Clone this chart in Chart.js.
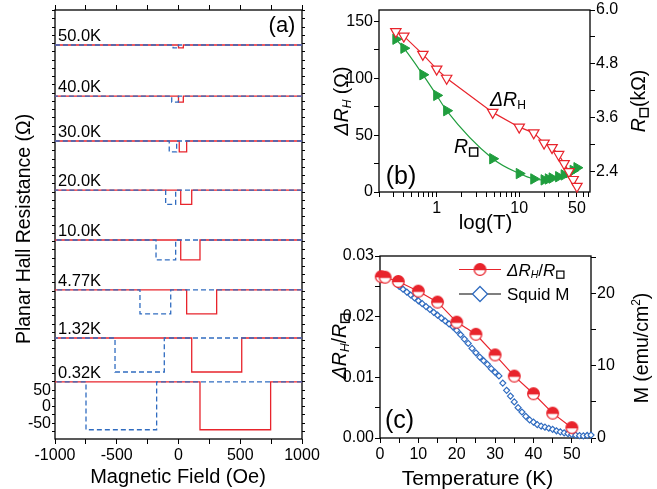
<!DOCTYPE html>
<html>
<head>
<meta charset="utf-8">
<script src="https://cdn.jsdelivr.net/npm/chart.js@4.4.1/dist/chart.umd.min.js"></script>
<style>
html, body { margin: 0; padding: 0; background: #fff; }
#wrap { position: relative; width: 657px; height: 489px; overflow: hidden; }
canvas { position: absolute; }
</style>
</head>
<body>
<div id="wrap">
    <canvas id="panelA" width="330" height="489" style="left:0;top:0;width:330px;height:489px"></canvas>
    <canvas id="panelB" width="327" height="240" style="left:330px;top:0;width:327px;height:240px"></canvas>
    <canvas id="panelC" width="327" height="249" style="left:330px;top:240px;width:327px;height:249px"></canvas>
</div>
<script>
// ---- panel (a): planar Hall loops, stacked by temperature ----
const hallTemps = ['0.32K', '1.32K', '4.77K', '10.0K', '20.0K', '30.0K', '40.0K', '50.0K']
const hallOffset = [75, 208, 354, 505, 656, 805, 941, 1096] // upper level of each trace (Ω, stacked)
const hallDepth = [145, 103, 73, 60, 43, 33, 18, 9]
const blueStart = [-749, -514, -312, -182, -104, -75, -55, -44]
const blueEnd = [-177, -115, -63, -23, -23, -15, -1, -1]
const redStart = [174, 107, 66, 18, 18, 6, 0, 0]
const redEnd = [746, 512, 309, 174, 107, 66, 39, 39]
const fieldLabels = [-1000, -500, 0, 500, 1000]
const hallLabels = [-50, 0, 50]

// ---- panel (b): ΔR_H and R□ vs T ----
const tempDR = [0.32, 0.4, 0.68, 1.0, 1.32, 4.77, 10, 15, 20, 25, 30, 35, 40, 45, 50]
const deltaRH = [141, 137, 121, 108, 100, 70, 57, 52, 43, 39, 33, 25, 18, 11, 5]
const tempSheet = [0.32, 0.4, 0.68, 1.0, 1.32, 4.77, 10, 15, 20, 22.5, 25, 30, 35, 40, 45, 50]
const rSheet = [5.35, 5.15, 4.56, 4.10, 3.76, 2.69, 2.36, 2.24, 2.22, 2.24, 2.26, 2.29, 2.33, 2.38, 2.43, 2.49]
const logMarks = [0.2, 0.3, 0.4, 0.5, 0.6, 0.7, 0.8, 0.9, 1, 2, 3, 4, 5, 6, 7, 8, 9, 10, 20, 30, 40, 50, 60, 70]
const logLabels = [1, 10, 50]
const dRMarks = [0, 25, 50, 75, 100, 125, 150]
const dRLabels = [0, 50, 100, 150]
const sheetMarks = [2.4, 3.0, 3.6, 4.2, 4.8, 5.4, 6.0]
const sheetLabels = [2.4, 3.6, 4.8, 6.0]

// ---- panel (c): ΔR_H/R□ and SQUID magnetisation vs T ----
const tempRatio = [0.32, 1.32, 4.77, 10, 15, 20, 25, 30, 35, 40, 45, 50]
const ratio = [0.0266, 0.0265, 0.0258, 0.0242, 0.0224, 0.0191, 0.0171, 0.0137, 0.0102, 0.0073, 0.0041, 0.0017]
const tempSquid = [5, 6, 7, 8, 9, 10, 11, 12, 13, 14, 15, 16, 17, 18, 19, 20, 21, 22, 23, 24, 25, 26, 27, 28, 29, 30,
    31, 32, 33, 34, 35, 36, 37, 38, 39, 40, 41, 42, 43, 44, 45, 46, 47, 48, 49, 50, 51, 52, 53, 54, 55]
const squidM = [21.0, 20.6, 20.2, 19.8, 19.4, 19.0, 18.6, 18.2, 17.8, 17.4, 17.0, 16.6, 16.2, 15.8, 15.4, 14.9,
    14.3, 13.7, 13.1, 12.4, 11.8, 11.2, 10.7, 10.2, 9.6, 9.1, 8.6, 7.6, 6.6, 5.8, 5.0, 4.2, 3.6, 3.0, 2.5, 2.2,
    1.85, 1.65, 1.5, 1.35, 1.2, 1.0, 0.85, 0.72, 0.6, 0.5, 0.4, 0.33, 0.3, 0.35, 0.4]
const tempMarks = [0, 5, 10, 15, 20, 25, 30, 35, 40, 45, 50, 55]
const tempLabels = [0, 10, 20, 30, 40, 50]
const ratioMarks = [0, 0.005, 0.01, 0.015, 0.02, 0.025, 0.03]
const ratioLabels = [0, 0.01, 0.02, 0.03]
const mMarks = [0, 5, 10, 15, 20, 25]
const mLabels = [0, 10, 20]

const FONT = '"Liberation Sans", Arial, Helvetica, sans-serif'
const RED = 'rgb(232,36,44)'
const BLUE = 'rgb(48,108,192)'
const GREEN = 'rgb(32,158,62)'

Chart.defaults.font.family = FONT
Chart.defaults.color = '#000'

function setFont(ctx, size, italic) {
    ctx.font = (italic ? 'italic ' : '') + size + 'px ' + FONT
}

// plain one-line text, centred on x
function drawPlain(ctx, text, x, y, size) {
    ctx.save()
    ctx.setTransform(1, 0, 0, 1, 0, 0)
    setFont(ctx, size, false)
    ctx.fillStyle = '#000'
    ctx.textAlign = 'center'
    ctx.textBaseline = 'alphabetic'
    ctx.fillText(text, x, y)
    ctx.restore()
}

// parts: [text, flags] with i = italic, s = subscript, p = superscript, b = small square
function measureRich(ctx, parts, size) {
    let w = 0
    for (const [text, f = ''] of parts) {
        if (f.includes('b')) {
            w += size * 0.42 + 3
            continue
        }
        const s = f.includes('s') || f.includes('p') ? size * 0.62 : size
        setFont(ctx, s, f.includes('i'))
        w += ctx.measureText(text).width
    }
    return w
}

function drawRich(ctx, parts, x, y, size, align, rotate) {
    ctx.save()
    ctx.setTransform(1, 0, 0, 1, 0, 0)
    ctx.translate(x, y)
    if (rotate) ctx.rotate(-Math.PI / 2)
    const w = measureRich(ctx, parts, size)
    let cx = align === 'center' ? -w / 2 : 0
    const base = rotate ? size * 0.36 : 0
    ctx.fillStyle = '#000'
    ctx.strokeStyle = '#000'
    ctx.textAlign = 'left'
    ctx.textBaseline = 'alphabetic'
    for (const [text, f = ''] of parts) {
        if (f.includes('b')) {
            const side = size * 0.42
            ctx.lineWidth = Math.max(1, size / 14)
            ctx.strokeRect(cx + 1.5, base + size * 0.16 - side, side, side)
            cx += side + 3
            continue
        }
        let s = size
        let dy = 0
        if (f.includes('s')) { s = size * 0.62; dy = size * 0.16 }
        if (f.includes('p')) { s = size * 0.62; dy = -size * 0.42 }
        setFont(ctx, s, f.includes('i'))
        ctx.fillText(text, cx, base + dy)
        cx += ctx.measureText(text).width
    }
    ctx.restore()
}

function makeAxis({ position, min, max, marks, labels, size, fmt, tick = 5, type = 'linear', showLabels = true }) {
    const horiz = position === 'top' || position === 'bottom'
    return {
        type,
        position,
        min,
        max,
        afterBuildTicks: (s) => {
            s.ticks = marks.map((v) => ({ value: v }))
        },
        afterFit: (s) => {
            if (horiz) s.height = size
            else s.width = size
        },
        ticks: {
            display: showLabels,
            autoSkip: false,
            maxRotation: 0,
            minRotation: 0,
            padding: horiz ? 3 : 1,
            color: '#000',
            font: { size: 16, lineHeight: 1.1 },
            callback: (v) => (labels.includes(v) ? (fmt ? fmt(v) : String(v)) : ''),
        },
        grid: { drawOnChartArea: false, drawTicks: true, tickLength: tick, color: '#000', lineWidth: 1 },
        border: { display: false },
    }
}

const frame = {
    id: 'frame',
    beforeDatasetsDraw(chart) {
        const { ctx, chartArea: a } = chart
        ctx.save()
        ctx.strokeStyle = '#000'
        ctx.lineWidth = 1.3
        ctx.strokeRect(a.left, a.top, a.right - a.left, a.bottom - a.top)
        ctx.restore()
    },
}

const baseOptions = {
    responsive: false,
    animation: false,
    devicePixelRatio: 1,
    plugins: { legend: { display: false }, tooltip: { enabled: false } },
}

// ---------- panel (a) ----------
const hallSets = []
hallTemps.forEach((t, i) => {
    const top = hallOffset[i]
    const low = top - hallDepth[i]
    hallSets.push({
        label: t + ' down',
        data: [
            { x: 1000, y: top }, { x: blueEnd[i], y: top }, { x: blueEnd[i], y: low },
            { x: blueStart[i], y: low }, { x: blueStart[i], y: top }, { x: -1000, y: top },
        ],
        showLine: true,
        borderColor: BLUE,
        borderWidth: 1.3,
        borderDash: [5, 3],
        pointRadius: 0,
        order: 1,
    })
    hallSets.push({
        label: t + ' up',
        data: [
            { x: -1000, y: top }, { x: redStart[i], y: top }, { x: redStart[i], y: low },
            { x: redEnd[i], y: low }, { x: redEnd[i], y: top }, { x: 1000, y: top },
        ],
        showLine: true,
        borderColor: RED,
        borderWidth: 1.3,
        pointRadius: 0,
        order: 2,
    })
})

const minorHall = []
for (let v = -75; v <= 1200; v += 25) minorHall.push(v)
const fieldMarks = []
for (let v = -1000; v <= 1000; v += 250) fieldMarks.push(v)

new Chart(document.getElementById('panelA'), {
    type: 'scatter',
    data: { datasets: hallSets },
    options: {
        ...baseOptions,
        layout: { padding: 0 },
        scales: {
            x: makeAxis({ position: 'bottom', min: -1000, max: 1000, marks: fieldMarks, labels: fieldLabels, size: 50 }),
            xTop: makeAxis({ position: 'top', min: -1000, max: 1000, marks: fieldMarks, labels: [], size: 10, showLabels: false }),
            y: makeAxis({ position: 'left', min: -98, max: 1202, marks: minorHall, labels: hallLabels, size: 55, tick: 3 }),
            yRight: makeAxis({ position: 'right', min: -98, max: 1202, marks: minorHall, labels: [], size: 28, tick: 3, showLabels: false }),
        },
    },
    plugins: [
        frame,
        {
            id: 'hallText',
            afterDraw(chart) {
                const { ctx, chartArea: a } = chart
                const y = chart.scales.y
                ctx.save()
                ctx.fillStyle = '#000'
                setFont(ctx, 16.5, false)
                ctx.textAlign = 'left'
                ctx.textBaseline = 'alphabetic'
                hallTemps.forEach((t, i) => {
                    ctx.fillText(t, a.left + 3, y.getPixelForValue(hallOffset[i]) - 4)
                })
                ctx.restore()
                drawPlain(ctx, '(a)', 282, 32, 22)
                drawRich(ctx, [['Planar Hall Resistance (Ω)']], 23, 229, 19.5, 'center', true)
                drawPlain(ctx, 'Magnetic Field (Oe)', 178, 483, 20)
            },
        },
    ],
})

// ---------- panel (b) ----------
new Chart(document.getElementById('panelB'), {
    type: 'scatter',
    data: {
        datasets: [
            {
                label: 'dRH',
                data: tempDR.map((t, i) => ({ x: t, y: deltaRH[i] })),
                yAxisID: 'y',
                showLine: true,
                borderColor: RED,
                borderWidth: 1.2,
                pointStyle: 'triangle',
                pointRotation: 180,
                pointRadius: 6,
                pointBackgroundColor: '#fff',
                pointBorderColor: RED,
                pointBorderWidth: 1.2,
                clip: false,
            },
            {
                label: 'Rsheet',
                data: tempSheet.map((t, i) => ({ x: t, y: rSheet[i] })),
                yAxisID: 'y1',
                showLine: true,
                cubicInterpolationMode: 'monotone',
                borderColor: GREEN,
                borderWidth: 1.2,
                pointStyle: 'triangle',
                pointRotation: 90,
                pointRadius: 6,
                pointBackgroundColor: GREEN,
                pointBorderColor: GREEN,
                pointBorderWidth: 1,
                clip: false,
            },
        ],
    },
    options: {
        ...baseOptions,
        layout: { padding: { top: 10 } },
        scales: {
            x: makeAxis({ type: 'logarithmic', position: 'bottom', min: 0.2, max: 72, marks: logMarks, labels: logLabels, size: 48 }),
            y: makeAxis({ position: 'left', min: 0, max: 160, marks: dRMarks, labels: dRLabels, size: 49 }),
            y1: makeAxis({ position: 'right', min: 1.95, max: 6.0, marks: sheetMarks, labels: sheetLabels, size: 67, fmt: (v) => v.toFixed(1) }),
        },
    },
    plugins: [
        frame,
        {
            id: 'bText',
            afterDraw(chart) {
                const ctx = chart.ctx
                drawRich(ctx, [['Δ', 'i'], ['R', 'i'], ['H', 'is'], [' (Ω)']], 11, 101, 19.5, 'center', true)
                drawRich(ctx, [['R', 'i'], ['', 'b'], ['(kΩ)']], 308, 101, 19.5, 'center', true)
                drawPlain(ctx, 'log(T)', 155.5, 229, 20.5)
                drawRich(ctx, [['Δ', 'i'], ['R', 'i'], ['H', 's']], 160, 106, 19.5, 'left')
                drawRich(ctx, [['R', 'i'], ['', 'b']], 124, 153, 19.5, 'left')
                drawPlain(ctx, '(b)', 71, 184, 25)
            },
        },
    ],
})

// ---------- panel (c) ----------
function halfCircle(r, color) {
    const c = document.createElement('canvas')
    const s = Math.ceil(2 * r + 3)
    c.width = s
    c.height = s
    const g = c.getContext('2d')
    const m = s / 2
    g.fillStyle = '#fff'
    g.beginPath()
    g.arc(m, m, r, 0, 2 * Math.PI)
    g.fill()
    g.fillStyle = color
    g.beginPath()
    g.arc(m, m, r, Math.PI - 0.15, 2 * Math.PI + 0.15)
    g.closePath()
    g.fill()
    g.strokeStyle = color
    g.lineWidth = 1.3
    g.beginPath()
    g.arc(m, m, r, 0, 2 * Math.PI)
    g.stroke()
    return c
}
const circleMark = halfCircle(5.8, RED)

function diamond(ctx, x, y, r, color) {
    ctx.save()
    ctx.fillStyle = '#fff'
    ctx.strokeStyle = color
    ctx.lineWidth = 1.3
    ctx.beginPath()
    ctx.moveTo(x, y - r)
    ctx.lineTo(x + r, y)
    ctx.lineTo(x, y + r)
    ctx.lineTo(x - r, y)
    ctx.closePath()
    ctx.fill()
    ctx.stroke()
    ctx.restore()
}

new Chart(document.getElementById('panelC'), {
    type: 'scatter',
    data: {
        datasets: [
            {
                label: 'ratio',
                data: tempRatio.map((t, i) => ({ x: t, y: ratio[i] })),
                yAxisID: 'y',
                showLine: true,
                borderColor: RED,
                borderWidth: 1.2,
                pointStyle: circleMark,
                pointRadius: 6,
                clip: false,
            },
            {
                label: 'Squid M',
                data: tempSquid.map((t, i) => ({ x: t, y: squidM[i] })),
                yAxisID: 'y1',
                showLine: false,
                pointStyle: 'rectRot',
                pointRadius: 3,
                pointBackgroundColor: '#fff',
                pointBorderColor: BLUE,
                pointBorderWidth: 1.2,
                clip: false,
            },
        ],
    },
    options: {
        ...baseOptions,
        layout: { padding: { top: 16 } },
        scales: {
            x: makeAxis({ position: 'bottom', min: 0, max: 55, marks: tempMarks, labels: tempLabels, size: 51 }),
            y: makeAxis({ position: 'left', min: 0, max: 0.03, marks: ratioMarks, labels: ratioLabels, size: 50, fmt: (v) => v.toFixed(2) }),
            y1: makeAxis({ position: 'right', min: 0, max: 25.2, marks: mMarks, labels: mLabels, size: 66 }),
        },
    },
    plugins: [
        frame,
        {
            id: 'cText',
            afterDraw(chart) {
                const ctx = chart.ctx
                // legend
                ctx.save()
                ctx.lineWidth = 1.2
                ctx.strokeStyle = RED
                ctx.beginPath()
                ctx.moveTo(129, 29.5)
                ctx.lineTo(171, 29.5)
                ctx.stroke()
                ctx.drawImage(circleMark, 150 - circleMark.width / 2, 29.5 - circleMark.height / 2)
                ctx.strokeStyle = '#000'
                ctx.beginPath()
                ctx.moveTo(129, 54)
                ctx.lineTo(171, 54)
                ctx.stroke()
                ctx.restore()
                diamond(ctx, 150, 54, 7.5, BLUE)
                drawRich(ctx, [['Δ', 'i'], ['R', 'i'], ['H', 'is'], ['/'], ['R', 'i'], ['', 'b']], 177, 35.5, 17, 'left')
                drawRich(ctx, [['Squid M']], 177, 60, 17, 'left')

                drawPlain(ctx, '(c)', 69.5, 188, 25)
                drawPlain(ctx, 'Temperature (K)', 147.5, 245, 21)
                drawRich(ctx, [['Δ', 'i'], ['R', 'i'], ['H', 'is'], ['/'], ['R', 'i'], ['', 'b']], 9, 106, 19.5, 'center', true)
                drawRich(ctx, [['M (emu/cm'], ['2', 'p'], [')']], 311, 108, 19.5, 'center', true)
            },
        },
    ],
})
</script>
</body>
</html>
